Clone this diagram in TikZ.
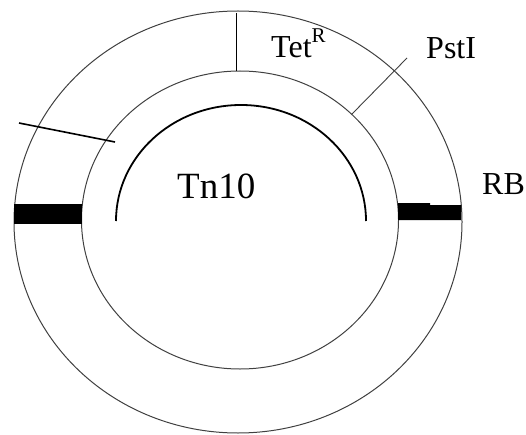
\documentclass[tikz,border=0pt]{standalone}
\usepackage{fontspec}
\setmainfont{Liberation Serif}
\begin{document}
\begin{tikzpicture}[x=1pt,y=1pt,
  ring/.style={draw=black!75,line width=1pt},
  tick/.style={draw=black,line width=0.9pt},
  thin tick/.style={draw=black!75,line width=0.9pt},
  bold tick/.style={draw=black,line width=1.6pt},
  bar/.style={fill=black,draw=none},
  lbl/.style={inner sep=0pt,anchor=base west,font=\fontsize{32}{36}\selectfont},
  biglbl/.style={inner sep=0pt,anchor=base west,font=\fontsize{37}{40}\selectfont}]
\useasboundingbox (0,0) rectangle (526,434);
% rings
\coordinate (oc) at (238,212);
\coordinate (ic) at (240,214);
\draw[ring] (oc) ellipse [x radius=224, y radius=211];
\draw[ring] (ic) ellipse [x radius=158.5, y radius=149];
% black bars
\fill[bar] (14,210) rectangle (82,230);
\fill[bar] (398,214) -- (461,214) -- (461,229) -- (430,229) -- (430,231) -- (398,231) -- cycle;
% Tet tick
\coordinate (t1) at (236,421);
\coordinate (t2) at (236,363);
\draw[tick] (t1) -- (t2);
% PstI line
\coordinate (p1) at (352,320);
\coordinate (p2) at (407,376);
\draw[thin tick] (p1) -- (p2);
% left line
\coordinate (l1) at (19,311);
\coordinate (l2) at (115,292);
\draw[bold tick] (l1) -- (l2);
% Tn10 arc
\coordinate (a1) at (116,213);
\draw[line width=1.8pt] (a1) arc[start angle=180, end angle=0, x radius=125, y radius=116];
% labels
\node[lbl] (tet) at (271,376) {Tet\raisebox{15pt}{\fontsize{21}{21}\selectfont R}};
\node[lbl] (pst) at (426,375) {PstI};
\node[lbl] (rb) at (482,240) {RB};
\node[biglbl] (tn) at (177,236) {Tn10};
\end{tikzpicture}
\end{document}
